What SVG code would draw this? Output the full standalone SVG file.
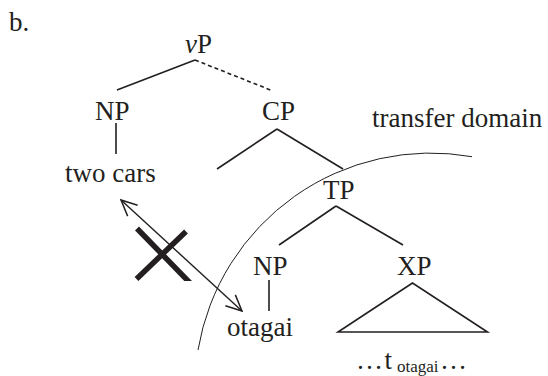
<svg xmlns="http://www.w3.org/2000/svg" width="548" height="376" viewBox="0 0 548 376">
  <style>
    text { font-family: "Liberation Serif", "Times New Roman", serif; font-size: 27px; fill: #231f20; }
    .sub { font-size: 17px; }
    .branch { stroke: #231f20; stroke-width: 1.6; fill: none; stroke-linecap: butt; }
    .dashed { stroke-dasharray: 4 3; }
    .domain { stroke: #231f20; stroke-width: 1; fill: none; }
    .move { stroke: #231f20; stroke-width: 1.4; fill: none; }
    .cross { stroke: #231f20; stroke-width: 5.5; fill: none; }
  </style>
  <defs>
    <marker id="head" markerUnits="userSpaceOnUse" markerWidth="20" markerHeight="20"
            viewBox="-17 -9 19 18" refX="0" refY="0" orient="auto-start-reverse">
      <path d="M-15,-7 L0,0 L-15,7" stroke="#231f20" stroke-width="1.4" fill="none"/>
    </marker>
    <clipPath id="crossClip">
      <rect x="120" y="215" width="90" height="66"/>
    </clipPath>
  </defs>
  <rect width="548" height="376" fill="#ffffff"/>

  <text x="9" y="31">b.</text>

  <!-- tree branches -->
  <g id="connectors">
    <line class="branch" x1="195" y1="60" x2="117" y2="90"/>
    <line class="branch dashed" x1="195" y1="60" x2="273" y2="91"/>
    <line class="branch" x1="116" y1="123" x2="116" y2="154"/>
    <line class="branch" x1="277" y1="129" x2="217" y2="169"/>
    <line class="branch" x1="277" y1="129" x2="343" y2="169"/>
    <line class="branch" x1="336" y1="206" x2="279" y2="245"/>
    <line class="branch" x1="336" y1="206" x2="403" y2="245"/>
    <line class="branch" x1="269" y1="280" x2="269" y2="311"/>
    <polygon class="branch" points="412.5,283 338,332 487.5,332"/>
    <!-- blocked binding relation -->
    <line class="move" x1="121" y1="200" x2="242" y2="311" marker-start="url(#head)" marker-end="url(#head)"/>
  </g>

  <!-- boundary of the transfer domain -->
  <path id="transfer-boundary" class="domain" d="M472,156.7 A236,236 0 0 0 198,350"/>

  <g id="cross-mark" clip-path="url(#crossClip)">
    <line class="cross" x1="136.5" y1="279" x2="186" y2="231.5"/>
    <line class="cross" x1="137" y1="228.5" x2="193" y2="286"/>
  </g>

  <g id="vP"><text x="185" y="53"><tspan font-style="italic">v</tspan>P</text></g>
  <g id="NP-subject"><text x="95" y="120">NP</text></g>
  <g id="CP"><text x="262" y="120">CP</text></g>
  <g id="transfer-domain-label"><text x="372" y="127">transfer domain</text></g>
  <g id="two-cars"><text x="65" y="182">two cars</text></g>
  <g id="TP"><text x="323" y="199">TP</text></g>
  <g id="NP-otagai"><text x="253" y="275">NP</text></g>
  <g id="XP"><text x="397" y="275">XP</text></g>
  <g id="otagai"><text x="227" y="336">otagai</text></g>
  <g id="trace">
    <text y="369"><tspan x="356">…</tspan><tspan x="384.5">t</tspan><tspan class="sub" x="397" y="372">otagai</tspan><tspan x="440" y="369">…</tspan></text>
  </g>
</svg>
